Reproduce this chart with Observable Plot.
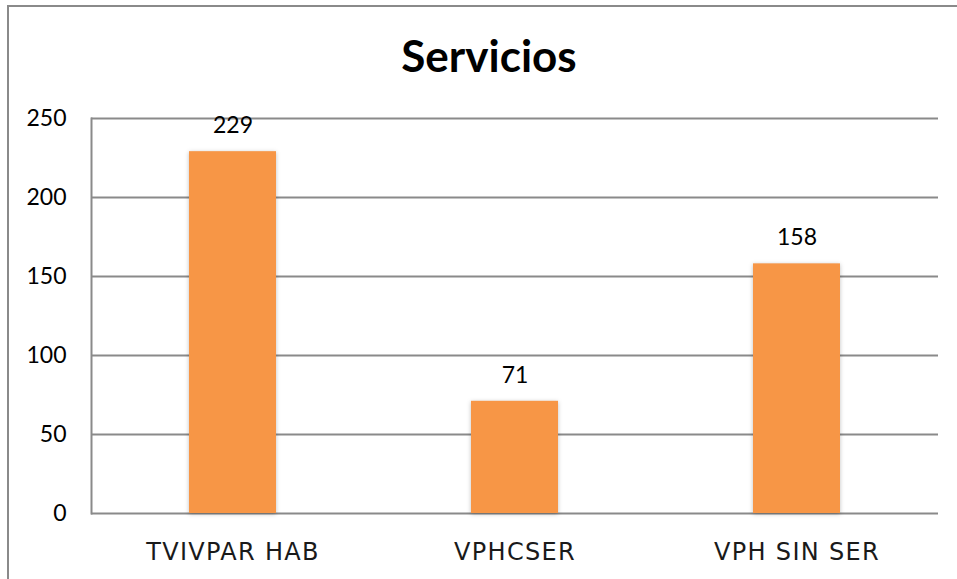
<!DOCTYPE html>
<html>
<head>
<meta charset="utf-8">
<script src="https://cdn.jsdelivr.net/npm/d3@7"></script>
<script src="https://cdn.jsdelivr.net/npm/@observablehq/plot@0.6"></script>
<style>
  html, body { margin: 0; padding: 0; background: #fff; }
  #wrap { position: relative; width: 957px; height: 579px; overflow: hidden; background: #fff; }
  #border { position: absolute; left: 7px; top: 5px; width: 970px; height: 600px; border-left: 2px solid #8a8a8a; border-top: 2px solid #8a8a8a; }
  #title { position: absolute; left: 0; width: 978px; top: 29px; text-align: center; font-family: Lato, sans-serif; font-weight: 700; font-size: 44px; color: #000; }
  #chart { position: absolute; left: 0; top: 0; }
</style>
</head>
<body>
<div id="wrap">
  <div id="border"></div>
  <div id="title">Servicios</div>
  <div id="chart"></div>
</div>
<script>
const categories = ["TVIVPAR HAB", "VPHCSER", "VPH SIN SER"];
const values = [229, 71, 158];
const yTicks = [0, 50, 100, 150, 200, 250];

const data = categories.map((c, i) => ({category: c, value: values[i]}));

const plot = Plot.plot({
  width: 957,
  height: 579,
  marginTop: 118,
  marginBottom: 66,
  marginLeft: 91,
  marginRight: 19,
  style: {background: "transparent", color: "#000"},
  x: {domain: categories, paddingInner: 0.69, paddingOuter: 0.345, label: null},
  y: {domain: [0, 250], ticks: yTicks, label: null},
  marks: [
    Plot.gridY(yTicks, {stroke: "#8a8a8a", strokeOpacity: 1, strokeWidth: 2}),
    Plot.frame({anchor: "left", stroke: "#8a8a8a", strokeWidth: 2}),
    Plot.barY(data, {x: "category", y: "value", fill: "#F79646"}),
    Plot.text(data, {x: "category", y: "value", text: d => String(d.value), dy: -26, fontSize: 23, fontFamily: "Lato, sans-serif", fill: "#000"}),
    Plot.axisY(yTicks, {tickSize: 0, tickPadding: 25, fontSize: 23, fontFamily: "Lato, sans-serif", label: null, fill: "#000"}),
    Plot.axisX({tickSize: 0, tickPadding: 29, fontSize: 24, fontFamily: "DejaVu Sans, sans-serif", label: null, fill: "#1a1a1a"})
  ]
});
document.getElementById("chart").appendChild(plot);
d3.select(plot).selectAll('g[aria-label="bar"] rect')
  .style("filter", "drop-shadow(0px 1px 2px rgba(0,0,0,0.25))");
d3.select(plot).selectAll('g[aria-label="x-axis tick label"] text')
  .style("letter-spacing", "1.3px");
</script>
</body>
</html>
